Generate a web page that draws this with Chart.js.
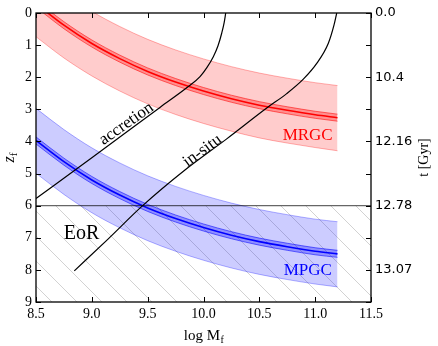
<!DOCTYPE html>
<html><head><meta charset="utf-8">
<script src="https://cdn.jsdelivr.net/npm/chart.js@4.4.1/dist/chart.umd.min.js"></script>
<style>html,body{margin:0;padding:0;background:#fff}#wrap{width:438px;height:346px;position:relative}</style>
</head><body><div id="wrap"><canvas id="c"></canvas></div>
<script>
// ---------- data ----------
const massGrid   = [8.5, 8.75, 9.0, 9.25, 9.5, 9.75, 10.0, 10.25, 10.5, 10.75, 11.0, 11.2];
// MRGC (metal-rich GCs)
const mrgcMid    = [-0.29, 0.38, 0.95, 1.42, 1.82, 2.15, 2.43, 2.67, 2.87, 3.03, 3.17, 3.26];
const mrgcHi     = [-1.29, -0.62, -0.05, 0.42, 0.82, 1.15, 1.43, 1.67, 1.87, 2.03, 2.17, 2.26];
const mrgcLo     = [0.74, 1.40, 1.96, 2.43, 2.83, 3.16, 3.44, 3.68, 3.89, 4.05, 4.19, 4.29];
const mrgcInHi   = [-0.40, 0.27, 0.84, 1.31, 1.71, 2.04, 2.32, 2.56, 2.76, 2.92, 3.06, 3.15];
const mrgcInLo   = [-0.18, 0.49, 1.06, 1.53, 1.93, 2.26, 2.54, 2.78, 2.98, 3.14, 3.28, 3.37];
// MPGC (metal-poor GCs)
const mpgcMid    = [3.97, 4.63, 5.20, 5.67, 6.07, 6.40, 6.68, 6.92, 7.12, 7.28, 7.42, 7.50];
const mpgcHi     = [2.97, 3.63, 4.20, 4.67, 5.07, 5.40, 5.68, 5.92, 6.12, 6.28, 6.42, 6.50];
const mpgcLo     = [4.99, 5.65, 6.22, 6.69, 7.09, 7.42, 7.70, 7.94, 8.14, 8.30, 8.44, 8.53];
const mpgcInHi   = [3.86, 4.52, 5.09, 5.56, 5.96, 6.29, 6.57, 6.81, 7.01, 7.17, 7.31, 7.39];
const mpgcInLo   = [4.08, 4.74, 5.31, 5.78, 6.18, 6.51, 6.79, 7.03, 7.23, 7.39, 7.53, 7.61];
// accretion track
const accretionLogM = [8.5, 9.0, 9.61, 9.864, 9.969, 10.03, 10.088, 10.13, 10.163, 10.185, 10.199];
const accretionZ    = [5.78, 4.51, 2.94, 2.29, 1.98, 1.70, 1.36, 1.02, 0.63, 0.30, 0.0];
// in-situ track
const insituLogM = [8.843, 9.145, 9.455, 9.834, 10.208, 10.566, 10.745, 10.894, 11.014, 11.118, 11.169, 11.193];
const insituZ    = [8.03, 7.04, 6.00, 4.89, 3.92, 2.96, 2.51, 2.06, 1.57, 0.94, 0.37, 0.0];
// epoch of reionisation
const eorLogM = [8.5, 11.5];
const eorZ    = [6, 6];
const eorEndZ = 9;
// ticks
const xTickValues = [8.5, 9.0, 9.5, 10.0, 10.5, 11.0, 11.5];
const xTickLabels = ['8.5', '9.0', '9.5', '10.0', '10.5', '11.0', '11.5'];
const zTickLabels = ['0', '1', '2', '3', '4', '5', '6', '7', '8', '9'];
const tTickLabels = ['0.0', '', '10.4', '', '12.16', '', '12.78', '', '13.07', ''];

// ---------- helpers ----------
const pts = (xs, ys) => xs.map((x, i) => ({x: x, y: ys[i]}));
function makeHatch() {
  const s = 25, c = document.createElement('canvas');
  c.width = s; c.height = s;
  const g = c.getContext('2d');
  g.strokeStyle = 'rgba(0,0,0,0.2)'; g.lineWidth = 0.9;
  g.beginPath();
  g.moveTo(-s, -s); g.lineTo(2 * s, 2 * s);
  g.moveTo(0, -s); g.lineTo(2 * s, s);
  g.moveTo(-s, 0); g.lineTo(s, 2 * s);
  g.stroke();
  return g.createPattern(c, 'repeat');
}
const serif = 'Liberation Serif';
const lineBase = {showLine: true, pointRadius: 0, pointHoverRadius: 0, cubicInterpolationMode: 'monotone', fill: false};

const datasets = [
  // 0 hatch region
  Object.assign({}, lineBase, {data: pts(eorLogM, eorZ), borderWidth: 0, borderColor: 'rgba(0,0,0,0)', fill: {value: eorEndZ}, backgroundColor: makeHatch(), order: 100}),
  // 1-5 MRGC
  Object.assign({}, lineBase, {data: pts(massGrid, mrgcHi), borderColor: 'rgba(255,0,0,0.3)', borderWidth: 1, order: 90}),
  Object.assign({}, lineBase, {data: pts(massGrid, mrgcLo), borderColor: 'rgba(255,0,0,0.3)', borderWidth: 1, fill: 1, backgroundColor: 'rgba(255,0,0,0.2)', order: 90}),
  Object.assign({}, lineBase, {data: pts(massGrid, mrgcInHi), borderColor: 'rgba(255,0,0,0.55)', borderWidth: 1, order: 80}),
  Object.assign({}, lineBase, {data: pts(massGrid, mrgcInLo), borderColor: 'rgba(255,0,0,0.55)', borderWidth: 1, fill: 3, backgroundColor: 'rgba(255,0,0,0.3)', order: 80}),
  Object.assign({}, lineBase, {data: pts(massGrid, mrgcMid), borderColor: '#ff0000', borderWidth: 1.6, order: 70}),
  // 6-10 MPGC
  Object.assign({}, lineBase, {data: pts(massGrid, mpgcHi), borderColor: 'rgba(0,0,255,0.3)', borderWidth: 1, order: 90}),
  Object.assign({}, lineBase, {data: pts(massGrid, mpgcLo), borderColor: 'rgba(0,0,255,0.3)', borderWidth: 1, fill: 6, backgroundColor: 'rgba(0,0,255,0.2)', order: 90}),
  Object.assign({}, lineBase, {data: pts(massGrid, mpgcInHi), borderColor: 'rgba(0,0,255,0.55)', borderWidth: 1, order: 80}),
  Object.assign({}, lineBase, {data: pts(massGrid, mpgcInLo), borderColor: 'rgba(0,0,255,0.55)', borderWidth: 1, fill: 8, backgroundColor: 'rgba(0,0,255,0.3)', order: 80}),
  Object.assign({}, lineBase, {data: pts(massGrid, mpgcMid), borderColor: '#0000ff', borderWidth: 1.6, order: 70}),
  // 11 EoR line
  Object.assign({}, lineBase, {data: pts(eorLogM, eorZ), borderColor: 'rgba(0,0,0,0.6)', borderWidth: 1.4, order: 60}),
  // 12-13 tracks
  Object.assign({}, lineBase, {data: pts(accretionLogM, accretionZ), borderColor: '#000', borderWidth: 1.2, order: 50}),
  Object.assign({}, lineBase, {data: pts(insituLogM, insituZ), borderColor: '#000', borderWidth: 1.2, order: 50})
];

// annotation texts (data coordinates)
const notes = [
  {text: 'accretion', x: 9.31, z: 3.45, rot: -35, color: '#000', size: 17, align: 'center', base: 'middle'},
  {text: 'in-situ', x: 9.99, z: 4.29, rot: -36, color: '#000', size: 17, align: 'center', base: 'middle'},
  {text: 'MRGC', x: 11.157, z: 3.95, rot: 0, color: '#ff0000', size: 17, align: 'right', base: 'alphabetic'},
  {text: 'MPGC', x: 11.15, z: 8.16, rot: 0, color: '#0000ff', size: 17, align: 'right', base: 'alphabetic'},
  {text: 'EoR', x: 8.908, z: 7.04, rot: 0, color: '#000', size: 20, align: 'center', base: 'alphabetic'}
];

const decor = {
  id: 'decor',
  afterDraw(chart) {
    const ctx = chart.ctx, a = chart.chartArea, x = chart.scales.x, y = chart.scales.y, y2 = chart.scales.y2;
    ctx.save();
    // annotations
    notes.forEach(n => {
      ctx.save();
      ctx.translate(x.getPixelForValue(n.x), y.getPixelForValue(n.z));
      ctx.rotate(n.rot * Math.PI / 180);
      ctx.font = n.size + 'px "' + serif + '"';
      ctx.fillStyle = n.color; ctx.textAlign = n.align; ctx.textBaseline = n.base;
      ctx.fillText(n.text, 0, 0);
      ctx.restore();
    });
    // inward ticks and frame
    ctx.strokeStyle = '#000'; ctx.lineWidth = 1;
    const L = 5;
    ctx.beginPath();
    xTickValues.forEach(v => {
      const p = Math.round(x.getPixelForValue(v)) + 0.5;
      ctx.moveTo(p, a.bottom); ctx.lineTo(p, a.bottom - L);
      ctx.moveTo(p, a.top); ctx.lineTo(p, a.top + L);
    });
    zTickLabels.forEach((t, i) => {
      const p = Math.round(y.getPixelForValue(i)) + 0.5;
      ctx.moveTo(a.left, p); ctx.lineTo(a.left + L, p);
    });
    tTickLabels.forEach((t, i) => {
      const p = Math.round(y2.getPixelForValue(i)) + 0.5;
      ctx.moveTo(a.right, p); ctx.lineTo(a.right - L, p);
    });
    ctx.stroke();
    ctx.lineWidth = 1.3;
    ctx.strokeRect(a.left, a.top, a.right - a.left, a.bottom - a.top);
    // axis titles
    ctx.fillStyle = '#000';
    const midY = (a.top + a.bottom) / 2, midX = (a.left + a.right) / 2;
    // left: z_f
    ctx.save();
    ctx.translate(14, midY);
    ctx.rotate(-Math.PI / 2);
    ctx.textBaseline = 'alphabetic'; ctx.textAlign = 'left';
    ctx.font = 'italic 16px "' + serif + '"';
    const zw = ctx.measureText('z').width;
    ctx.font = '11px "' + serif + '"';
    const fw = ctx.measureText('f').width;
    const x0 = -(zw + fw) / 2;
    ctx.font = 'italic 16px "' + serif + '"';
    ctx.fillText('z', x0, 0);
    ctx.font = '11px "' + serif + '"';
    ctx.fillText('f', x0 + zw, 3);
    ctx.restore();
    // right: t [Gyr]
    ctx.save();
    ctx.translate(428, midY);
    ctx.rotate(-Math.PI / 2);
    ctx.textAlign = 'center'; ctx.textBaseline = 'alphabetic';
    ctx.font = '14px "' + serif + '"';
    ctx.fillText('t [Gyr]', 0, 0);
    ctx.restore();
    // bottom: log M_f
    ctx.textBaseline = 'alphabetic'; ctx.textAlign = 'left';
    ctx.font = '15px "' + serif + '"';
    const lw = ctx.measureText('log M').width;
    ctx.font = '10px "' + serif + '"';
    const sw = ctx.measureText('f').width;
    const bx = midX - (lw + sw) / 2;
    ctx.font = '15px "' + serif + '"';
    ctx.fillText('log M', bx, 340);
    ctx.font = '10px "' + serif + '"';
    ctx.fillText('f', bx + lw + 0.5, 343);
    ctx.restore();
  }
};

const noGrid = {display: false, drawTicks: false};
new Chart(document.getElementById('c'), {
  type: 'scatter',
  data: {datasets: datasets},
  options: {
    responsive: true, maintainAspectRatio: false, animation: false, devicePixelRatio: 1,
    layout: {padding: {top: 13, left: 0, right: 0, bottom: 0}},
    plugins: {legend: {display: false}, tooltip: {enabled: false}},
    elements: {line: {tension: 0}},
    scales: {
      x: {
        type: 'linear', min: 8.5, max: 11.5,
        afterBuildTicks: s => { s.ticks = xTickValues.map(v => ({value: v})); },
        ticks: {callback: v => xTickLabels[xTickValues.indexOf(v)], font: {family: serif, size: 14}, color: '#000', padding: 4, maxRotation: 0, autoSkip: false},
        grid: noGrid, border: {display: false},
        afterFit: s => { s.height = 44; }
      },
      y: {
        type: 'linear', position: 'left', reverse: true, min: 0, max: 9,
        afterBuildTicks: s => { s.ticks = zTickLabels.map((t, i) => ({value: i})); },
        ticks: {callback: v => zTickLabels[Math.round(v)], font: {family: serif, size: 14}, color: '#000', padding: 4, autoSkip: false},
        grid: noGrid, border: {display: false},
        afterFit: s => { s.width = 36; }
      },
      y2: {
        type: 'linear', position: 'right', reverse: true, min: 0, max: 9,
        afterBuildTicks: s => { s.ticks = tTickLabels.map((t, i) => ({value: i})); },
        ticks: {callback: v => tTickLabels[Math.round(v)], font: {family: 'DejaVu Sans', size: 13}, color: '#000', padding: 4, autoSkip: false},
        grid: noGrid, border: {display: false},
        afterFit: s => { s.width = 67; }
      }
    }
  },
  plugins: [decor]
});
</script></body></html>
